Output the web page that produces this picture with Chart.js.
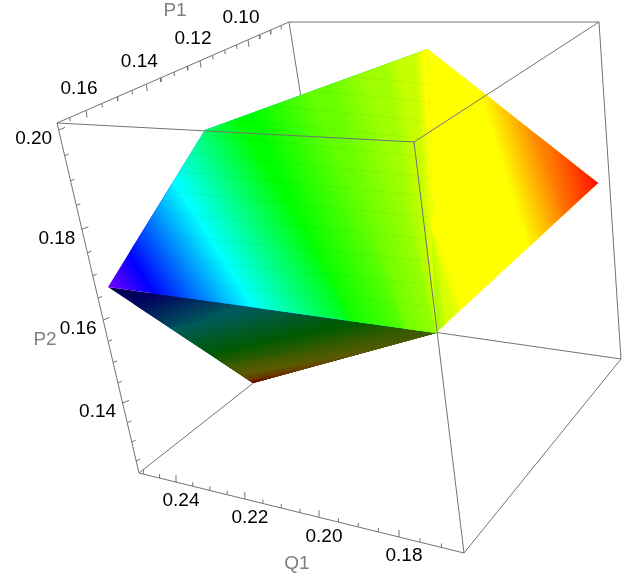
<!DOCTYPE html>
<html><head><meta charset="utf-8">
<style>html,body{margin:0;padding:0;background:#fff}canvas{display:block}</style>
<script src="https://cdn.jsdelivr.net/npm/chart.js@4/dist/chart.umd.min.js"></script>
</head><body><canvas id="c" width="638" height="582"></canvas>
<script>
// ---- box corners (view plane units) ----
const cornerA=[57,123], cornerB=[289,22], cornerC=[599,22], cornerD=[414,142];
const cornerE=[139,473], cornerG=[464,553], cornerH=[621,359], cornerJ=[336,318];
// ---- surface vertices ----
const vL=[108,287], vT=[205,130], vY=[428,49], vR=[598,183], vI=[436,333], vB=[253,383], vK=[431,230];
// ---- tick values and labels ----
const p1Major=[0.16,0.14,0.12,0.10];
const p1Minor=[0.165,0.155,0.15,0.145,0.135,0.13,0.125,0.115,0.11,0.105,0.095,0.09,0.085];
const p2Major=[0.20,0.18,0.16,0.14];
const p2Minor=[0.195,0.19,0.185,0.175,0.17,0.165,0.155,0.15,0.145,0.135,0.13,0.125];
const q1Major=[0.24,0.22,0.20,0.18];
const q1Minor=[0.25,0.245,0.235,0.23,0.225,0.215,0.21,0.205,0.195,0.19,0.185,0.175,0.17];
// ---- colour contours of the upper-left face: position on upper rim, position on lower rim, colour ----
const face1Top=[108,129,172,245,320,375,410,428];
const face1Bot=[108,152,258,350,405,436,436,436];
const face1Col=['#7800ff','#0000ff','#00ffff','#00ff00','#66ff00','#a0ff00','#c8ff00','#ffff00'];
// ---- right face ----
const face2Top=[428,475,540,590,598];
const face2Bot=[436,530,562,592,598];
const face2Col=['#ffff00','#ffff00','#ff8000','#ff2000','#ff0000'];
// ---- soft corner next to the fold ----
const face3Top=[431,431,431];
const face3Bot=[436,450,466];
const face3Col=['#a8ff00','#d8ff00','#ffff00'];
// ---- dark lower face ----
const face4Top=[108,152,258,350,436,502,569,619];
const face4Bot=[108,134,170,212,225,240,248,253];
const face4Col=['#00004a','#000060','#005a5a','#005a00','#3f5a00','#5a5a00','#6a3800','#6a0000'];
// ---- faint mesh rows on the surface ----
const meshRows=[80,98,117,135,153,173,192,213,235,257,280,302];

const datasets=[];
const paint=(d)=>datasets.push(d);
const P=(p)=>({x:p[0],y:p[1]});
function cum(poly){const c=[poly[0][0]];for(let i=1;i<poly.length;i++)c.push(c[i-1]+Math.abs(poly[i][0]-poly[i-1][0]));return c;}
function at(poly,t){const c=cum(poly);for(let i=1;i<poly.length;i++){if(t<=c[i]){const f=(t-c[i-1])/((c[i]-c[i-1])||1);return [poly[i-1][0]+f*(poly[i][0]-poly[i-1][0]),poly[i-1][1]+f*(poly[i][1]-poly[i-1][1])];}}return poly[poly.length-1];}
function rest(poly,t){const c=cum(poly);return poly.filter((p,i)=>c[i]>t);}
function face(top,bot,tt,bb,cc){
  const n=tt.length;
  const A=tt.map(t=>at(top,t)),B=bb.map(t=>at(bot,t));
  for(let i=0;i<n-1;i++){
    const pts=[A[i],...rest(top,tt[i]),...rest(bot,bb[i]).reverse(),B[i]].map(P);
    const dir=(k)=>{const dx=B[k][0]-A[k][0],dy=B[k][1]-A[k][1],l=Math.hypot(dx,dy);return l?[dx/l,dy/l]:null;};
    const d0=dir(i),d1=dir(i+1);
    const d=d0&&d1?[d0[0]+d1[0],d0[1]+d1[1]]:(d0||d1);
    const l=Math.hypot(d[0],d[1])||1;const nx=-d[1]/l,ny=d[0]/l;
    const m0=[(A[i][0]+B[i][0])/2,(A[i][1]+B[i][1])/2],m1=[(A[i+1][0]+B[i+1][0])/2,(A[i+1][1]+B[i+1][1])/2];
    const k=(m1[0]-m0[0])*nx+(m1[1]-m0[1])*ny;
    const e=[m0[0]+k*nx,m0[1]+k*ny];
    const c0=cc[i],c1=cc[i+1];
    paint({data:pts,showLine:true,fill:'shape',borderWidth:0,borderColor:'transparent',pointRadius:0,
      backgroundColor:(ctx)=>{const ch=ctx.chart;if(!ch.chartArea||!ch.scales.x)return c0;
        const g=ch.ctx.createLinearGradient(ch.scales.x.getPixelForValue(m0[0]),ch.scales.y.getPixelForValue(m0[1]),ch.scales.x.getPixelForValue(e[0]),ch.scales.y.getPixelForValue(e[1]));
        g.addColorStop(0,c0);g.addColorStop(1,c1);return g;}});
  }
}
const LINE='#727272';
function lines(segs,color,width){
  const data=[];segs.forEach(s=>{s.forEach(p=>data.push(P(p)));data.push({x:null,y:null});});
  paint({data,showLine:true,fill:false,spanGaps:false,borderColor:color,borderWidth:width,pointRadius:0});
}
// projective position along an axis from three read references
function mobius(v0,s0,v1,s1,v2,s2){return (v)=>{
  if(Math.abs(v-v1)<1e-9)return s1;
  const k=(v-v0)*(v2-v1)/((v-v1)*(v2-v0))*(s2-s0)/(s2-s1);return (s0-k*s1)/(1-k);};}
const p1Pos=mobius(0.16,86,0.12,200,0.10,248);
const p2Pos=mobius(0.20,130,0.16,320,0.14,403);
const q1Pos=mobius(0.24,176,0.20,319,0.18,399);
const onX=(a,b,x)=>[x,a[1]+(x-a[0])*(b[1]-a[1])/(b[0]-a[0])];
const onY=(a,b,y)=>[a[0]+(y-a[1])*(b[0]-a[0])/(b[1]-a[1]),y];
const p1Pt=v=>onX(cornerA,cornerB,p1Pos(v));
const p2Pt=v=>onY(cornerA,cornerE,p2Pos(v));
const q1Pt=v=>onX(cornerE,cornerG,q1Pos(v));
const tick=(pt,dx,dy)=>[pt,[pt[0]+dx,pt[1]+dy]];

// hidden box edges first
lines([[cornerB,cornerJ],[cornerJ,cornerH],[cornerJ,cornerE]],LINE,1);
// surface
face([vL,vI,vB],[vL,vB],face4Top,face4Bot,face4Col);
face([vL,vT,vY],[vL,vI],face1Top,face1Bot,face1Col);
face([vY,vR],[vI,vR],face2Top,face2Bot,face2Col);
face([vK,[vK[0]+0.5,vK[1]]],[vI,[466,302]],face3Top,face3Bot,face3Col);
// mesh rows
const meshSegs=meshRows.map(r=>{const f=x=>r+0.1*(x-387);let left=431;
  [[vL,vT],[vT,vY]].forEach(([a,b])=>{const m=(b[1]-a[1])/(b[0]-a[0]);const x=(a[1]-m*a[0]-r+38.7)/(0.1-m);
    if(x>=a[0]&&x<=b[0])left=x;});
  return [[left,f(left)],[431,f(431)]];});
lines(meshSegs,'rgba(0,0,0,0.035)',1.4);
// visible box edges
lines([[cornerA,cornerB],[cornerB,cornerC],[cornerC,cornerH],[cornerH,cornerG],[cornerG,cornerE],[cornerE,cornerA],[cornerA,cornerD],[cornerD,cornerC],[cornerD,cornerG]],LINE,1);
// ticks
lines([
  ...p1Major.map(v=>tick(p1Pt(v),1,7)),...p1Minor.map(v=>tick(p1Pt(v),0.6,4)),
  ...p2Major.map(v=>tick(p2Pt(v),6.5,-2.6)),...p2Minor.map(v=>tick(p2Pt(v),4,-1.6)),
  ...q1Major.map(v=>tick(q1Pt(v),0,-7)),...q1Minor.map(v=>tick(q1Pt(v),0,-4))
],LINE,1);

const N=datasets.length;
datasets.forEach((d,i)=>{d.order=N-i;});

const textPlugin={id:'axisText',afterDraw(ch){
  const c=ch.ctx,X=ch.scales.x,Y=ch.scales.y;
  const put=(t,p,col)=>{c.fillStyle=col;c.fillText(t,X.getPixelForValue(p[0]),Y.getPixelForValue(p[1]));};
  c.save();c.font='19px "Liberation Sans",Arial,sans-serif';c.textAlign='center';c.textBaseline='middle';
  p1Major.forEach(v=>{const p=p1Pt(v);put(v.toFixed(2),[p[0]-7,p[1]-22],'#000');});
  p2Major.forEach(v=>{const p=p2Pt(v);put(v.toFixed(2),[p[0]-25,p[1]+9],'#000');});
  q1Major.forEach(v=>{const p=q1Pt(v);put(v.toFixed(2),[p[0]+5,p[1]+19],'#000');});
  put('P1',[175,11],'#7f7f7f');put('P2',[45,340],'#7f7f7f');put('Q1',[297,564],'#7f7f7f');
  c.restore();
}};

new Chart(document.getElementById('c'),{type:'scatter',data:{datasets},plugins:[textPlugin],options:{
  responsive:false,animation:false,layout:{padding:0},
  elements:{line:{tension:0,borderJoinStyle:'miter'}},
  plugins:{legend:{display:false},tooltip:{enabled:false},title:{display:false}},
  scales:{x:{type:'linear',min:0,max:638,display:false},y:{type:'linear',min:0,max:582,reverse:true,display:false}}
}});
</script></body></html>
